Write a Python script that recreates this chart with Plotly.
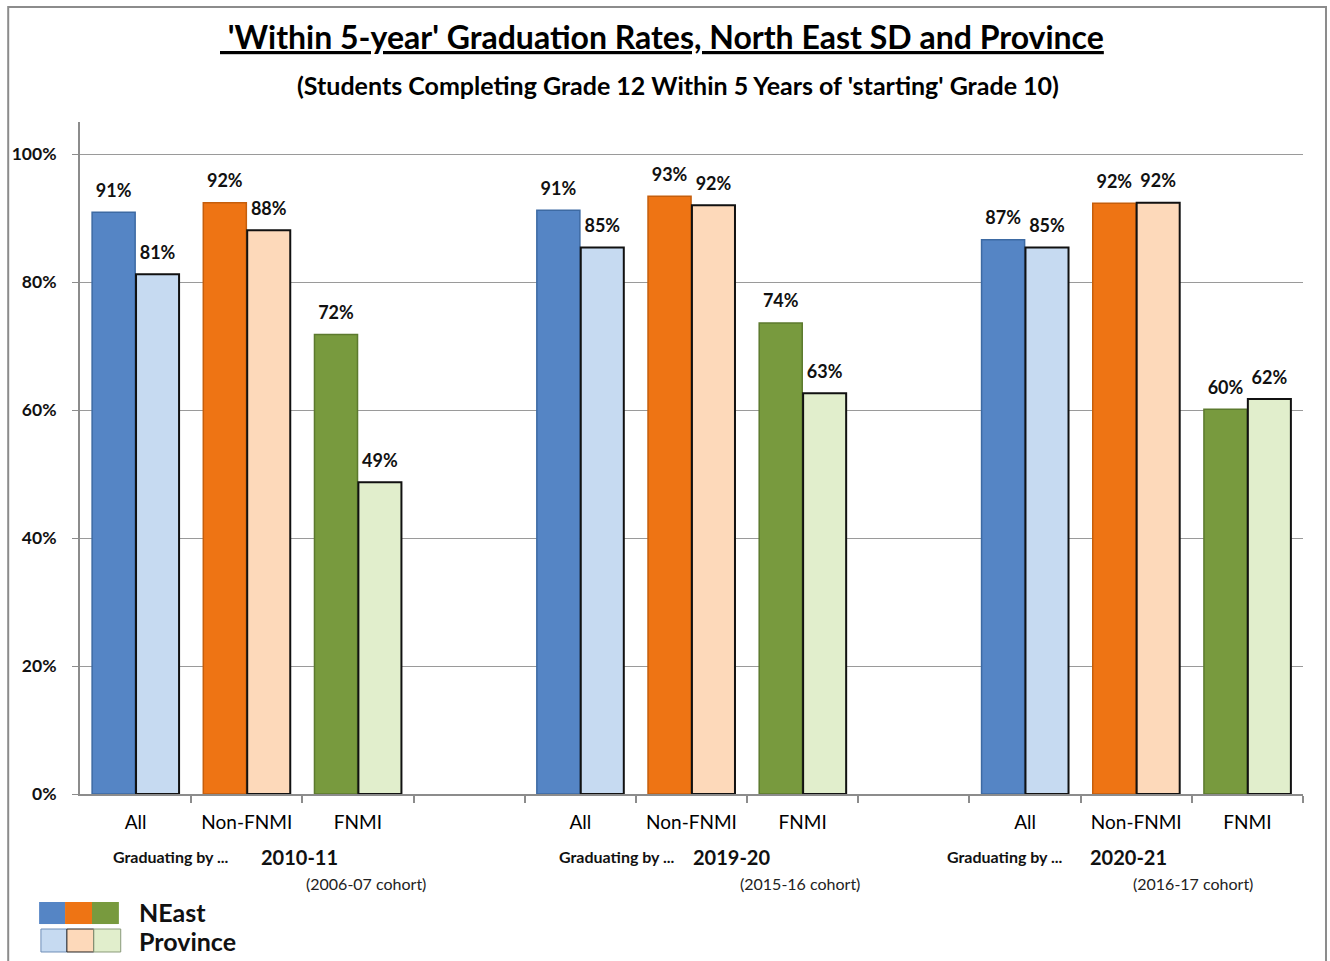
import plotly.graph_objects as go

# ---------------- data ----------------
groups = ["2010-11", "2019-20", "2020-21"]
cohorts = ["(2006-07 cohort)", "(2015-16 cohort)", "(2016-17 cohort)"]
categories = ["All", "Non-FNMI", "FNMI"]
neast = [[0.909, 0.924, 0.718], [0.912, 0.934, 0.736], [0.866, 0.923, 0.601]]
province = [[0.812, 0.881, 0.487], [0.854, 0.920, 0.626], [0.854, 0.924, 0.617]]
y_ticks = [0, 0.2, 0.4, 0.6, 0.8, 1.0]
y_ticktext = ["0%", "20%", "40%", "60%", "80%", "100%"]

# ---------------- style ----------------
FONT = "Lato, 'Open Sans', sans-serif"
neast_fill = ["#5585C5", "#EE7414", "#789A3E"]
neast_line = ["#3D6AA3", "#C55E0C", "#5C7A2E"]
prov_fill = ["#C6DAF1", "#FDD9BA", "#E1EECC"]
prov_line = ["#111111", "#111111", "#111111"]
SLOTS_PER_GROUP = 4  # 3 categories + 1 empty spacer
BARGAP = 0.21

x_pos, y_ne, y_pr, c_ne, c_pr, l_ne, l_pr = [], [], [], [], [], [], []
tick_vals, tick_text = [], []
for g in range(len(groups)):
    for c, cat in enumerate(categories):
        xp = g * SLOTS_PER_GROUP + c + 0.5
        x_pos.append(xp)
        y_ne.append(neast[g][c])
        y_pr.append(province[g][c])
        c_ne.append(neast_fill[c]); l_ne.append(neast_line[c])
        c_pr.append(prov_fill[c]); l_pr.append(prov_line[c])
        tick_vals.append(xp)
        tick_text.append(cat)
n_slots = len(groups) * SLOTS_PER_GROUP - 1

label_font = dict(family=FONT, size=18, color="#111111", weight="bold")

fig = go.Figure()
fig.add_trace(go.Bar(
    x=x_pos, y=y_ne, name="NEast", offsetgroup="ne",
    marker=dict(color=c_ne, line=dict(color=l_ne, width=1.5)),
    showlegend=False, hoverinfo="skip",
))
fig.add_trace(go.Bar(
    x=x_pos, y=y_pr, name="Province", offsetgroup="pr",
    marker=dict(color=c_pr, line=dict(color=l_pr, width=2)),
    showlegend=False, hoverinfo="skip",
))
# value labels (grouped scatter text aligned with bars)
for name, ys in (("NEast", y_ne), ("Province", y_pr)):
    fig.add_trace(go.Scatter(
        x=x_pos, y=ys, name=name + " labels", mode="markers+text",
        offsetgroup="ne" if name == "NEast" else "pr",
        marker=dict(size=16, opacity=0),
        texttemplate="%{y:.0%}", textposition="top center", textfont=label_font,
        cliponaxis=False, showlegend=False, hoverinfo="skip",
    ))

annotations = []
# titles
annotations.append(dict(
    text="<b><u>&nbsp;'Within 5-year' Graduation Rates, North East SD and Province</u></b>",
    xref="paper", yref="paper", x=0.4755, y=1.1265, xanchor="center", yanchor="middle",
    showarrow=False, font=dict(family=FONT, size=32, color="#000000")))
annotations.append(dict(
    text="<b>(Students Completing Grade 12 Within 5 Years of 'starting' Grade 10)</b>",
    xref="paper", yref="paper", x=0.4886, y=1.0551, xanchor="center", yanchor="middle",
    showarrow=False, font=dict(family=FONT, size=25, color="#000000")))

# group labels
grad_x = [0.817, 4.827, 8.318]
year_x = [1.974, 5.859, 9.43]
cohort_x = [2.575, 6.478, 10.01]
for g in range(len(groups)):
    annotations.append(dict(text="<b>Graduating by ...</b>", xref="x", yref="paper",
                            x=grad_x[g], y=-0.0923, xanchor="center", yanchor="middle",
                            showarrow=False, font=dict(family=FONT, size=16, color="#111111")))
    annotations.append(dict(text="<b>" + groups[g] + "</b>", xref="x", yref="paper",
                            x=year_x[g], y=-0.0938, xanchor="center", yanchor="middle",
                            showarrow=False, font=dict(family=FONT, size=20, color="#111111")))
    annotations.append(dict(text=cohorts[g], xref="x", yref="paper",
                            x=cohort_x[g], y=-0.1339, xanchor="center", yanchor="middle",
                            showarrow=False, font=dict(family=FONT, size=16, color="#222222")))

# custom legend
shapes = []
seg_x = [-0.03344, -0.01223, 0.00979, 0.0318]
for i in range(3):
    shapes.append(dict(type="rect", xref="paper", yref="paper",
                       x0=seg_x[i], x1=seg_x[i + 1], y0=-0.1935, y1=-0.1607,
                       fillcolor=neast_fill[i], line=dict(width=0)))
    shapes.append(dict(type="rect", xref="paper", yref="paper",
                       x0=seg_x[i] + 0.0015, x1=seg_x[i + 1] + 0.0015, y0=-0.2351, y1=-0.2009,
                       fillcolor=prov_fill[i],
                       line=dict(width=1, color=["#6F8FB8", "#222222", "#8A9A7A"][i])))
annotations.append(dict(text="<b>NEast</b>", xref="paper", yref="paper", x=0.0465, y=-0.1756,
                        xanchor="left", yanchor="middle", showarrow=False,
                        font=dict(family=FONT, size=25, color="#111111")))
annotations.append(dict(text="<b>Province</b>", xref="paper", yref="paper", x=0.0465, y=-0.2188,
                        xanchor="left", yanchor="middle", showarrow=False,
                        font=dict(family=FONT, size=25, color="#111111")))

# outer border
shapes.append(dict(type="rect", xref="paper", yref="paper", x0=-0.0587, x1=1.0188,
                   y0=-0.27, y1=1.171, line=dict(color="#8C8C8C", width=2),
                   fillcolor="rgba(0,0,0,0)", layer="below"))

fig.update_layout(
    width=1330, height=961,
    margin=dict(l=77, r=27, t=122, b=167),
    paper_bgcolor="white", plot_bgcolor="white",
    barmode="group", bargap=BARGAP, bargroupgap=0.02,
    scattermode="group", scattergap=BARGAP,
    font=dict(family=FONT, color="#111111"),
    annotations=annotations, shapes=shapes,
    xaxis=dict(
        range=[0, n_slots], tickmode="array", tickvals=tick_vals, ticktext=tick_text,
        ticks="", showgrid=False, zeroline=False,
        showline=True, linecolor="#8C8C8C", linewidth=2,
        tickfont=dict(family=FONT, size=19, color="#000000"),
        ticklabelstandoff=10,
        minor=dict(tickmode="array", tickvals=list(range(1, n_slots + 1)),
                   ticks="outside", ticklen=7, tickcolor="#8C8C8C", tickwidth=1.5,
                   showgrid=False),
    ),
    yaxis=dict(
        range=[0, 1.05], tickmode="array", tickvals=y_ticks, ticktext=y_ticktext,
        ticks="outside", ticklen=6, tickcolor="#8C8C8C",
        showgrid=True, gridcolor="#9A9A9A", gridwidth=1,
        zeroline=False, showline=True, linecolor="#8C8C8C", linewidth=2,
        tickfont=dict(family=FONT, size=17.5, color="#111111", weight="bold"),
        ticklabelstandoff=12,
    ),
)

# remove the browser's default 8px body margin so the figure fills the window exactly
fig.write_html(
    "out.html",
    config={"displayModeBar": False},
    post_script="document.body.style.margin='0';document.body.style.overflow='hidden';",
)
